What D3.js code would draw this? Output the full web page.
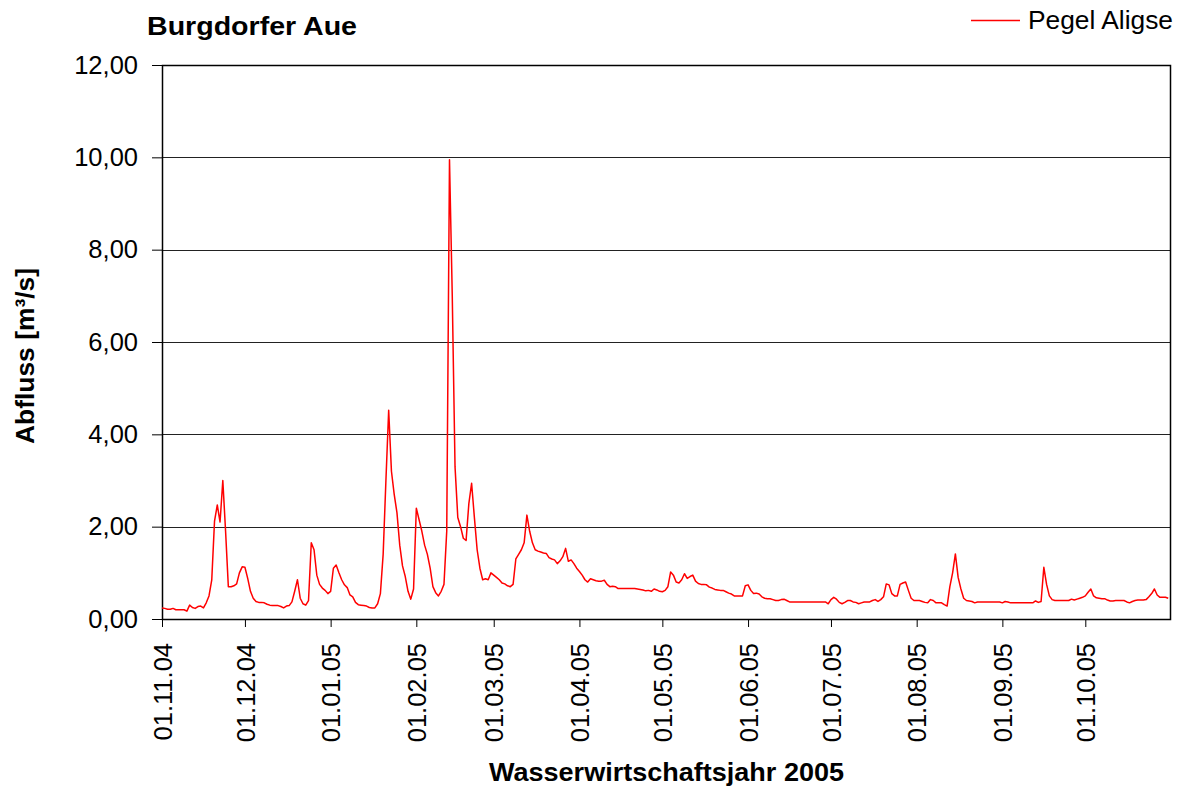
<!DOCTYPE html>
<html>
<head>
<meta charset="utf-8">
<script src="https://cdn.jsdelivr.net/npm/d3@7/dist/d3.min.js"></script>
<style>
    body { margin: 0; background: #ffffff; }
    text { font-family: "Liberation Sans", Arial, sans-serif; fill: #000; }
</style>
</head>
<body>
<div id="chart"></div>
<script>
// daily discharge, Pegel Aligse, m3/s
var nov04 = [0.24, 0.23, 0.21, 0.21, 0.23, 0.20, 0.20, 0.20, 0.20, 0.17,
    0.30, 0.25, 0.23, 0.27, 0.28, 0.24, 0.35, 0.50, 0.85, 2.12,
    2.47, 2.10, 3.00, 1.90, 0.70, 0.70, 0.72, 0.76, 1.00, 1.13];
var dec04 = [1.12, 0.88, 0.60, 0.45, 0.38, 0.36, 0.36, 0.35, 0.32, 0.30,
    0.29, 0.29, 0.29, 0.27, 0.24, 0.28, 0.29, 0.37, 0.60, 0.85,
    0.45, 0.33, 0.30, 0.40, 1.65, 1.50, 0.95, 0.75, 0.67, 0.62,
    0.55];
var jan05 = [0.60, 1.10, 1.17, 1.00, 0.85, 0.74, 0.68, 0.52, 0.48, 0.36,
    0.31, 0.30, 0.29, 0.28, 0.25, 0.24, 0.24, 0.33, 0.55, 1.40,
    3.00, 4.52, 3.20, 2.70, 2.30, 1.60, 1.15, 0.92, 0.60, 0.43,
    0.65];
var feb05 = [2.40, 2.15, 1.90, 1.60, 1.40, 1.10, 0.70, 0.57, 0.50, 0.60,
    0.75, 1.90, 9.95, 7.00, 3.30, 2.20, 2.00, 1.75, 1.70, 2.50,
    2.94, 2.20, 1.50, 1.10, 0.85, 0.87, 0.85, 1.00];
var mar05 = [0.95, 0.90, 0.85, 0.78, 0.76, 0.72, 0.70, 0.75, 1.30, 1.40,
    1.50, 1.65, 2.25, 1.90, 1.65, 1.50, 1.47, 1.45, 1.43, 1.42,
    1.33, 1.30, 1.28, 1.20, 1.26, 1.35, 1.53, 1.25, 1.28, 1.20,
    1.10];
var apr05 = [1.03, 0.95, 0.85, 0.80, 0.87, 0.85, 0.83, 0.82, 0.82, 0.84,
    0.75, 0.70, 0.71, 0.70, 0.66, 0.66, 0.66, 0.66, 0.66, 0.66,
    0.66, 0.65, 0.64, 0.63, 0.61, 0.62, 0.60, 0.65, 0.63, 0.60];
var may05 = [0.59, 0.62, 0.70, 1.02, 0.95, 0.80, 0.78, 0.85, 0.98, 0.88,
    0.92, 0.95, 0.82, 0.77, 0.75, 0.75, 0.74, 0.69, 0.67, 0.64,
    0.63, 0.62, 0.62, 0.59, 0.56, 0.54, 0.50, 0.50, 0.50, 0.50,
    0.72];
var jun05 = [0.74, 0.62, 0.55, 0.56, 0.54, 0.48, 0.45, 0.44, 0.44, 0.42,
    0.40, 0.40, 0.42, 0.43, 0.40, 0.37, 0.37, 0.37, 0.37, 0.37,
    0.37, 0.37, 0.37, 0.37, 0.37, 0.37, 0.37, 0.37, 0.37, 0.33];
var jul05 = [0.42, 0.47, 0.43, 0.36, 0.33, 0.36, 0.40, 0.40, 0.37, 0.36,
    0.33, 0.35, 0.37, 0.37, 0.37, 0.40, 0.42, 0.38, 0.42, 0.48,
    0.76, 0.74, 0.55, 0.50, 0.50, 0.75, 0.78, 0.80, 0.62, 0.45,
    0.40];
var aug05 = [0.40, 0.40, 0.38, 0.36, 0.35, 0.42, 0.40, 0.35, 0.35, 0.35,
    0.31, 0.28, 0.70, 1.00, 1.41, 0.90, 0.65, 0.45, 0.40, 0.39,
    0.38, 0.35, 0.37, 0.37, 0.37, 0.37, 0.37, 0.37, 0.37, 0.37,
    0.37];
var sep05 = [0.35, 0.38, 0.37, 0.35, 0.35, 0.35, 0.35, 0.35, 0.35, 0.35,
    0.35, 0.35, 0.39, 0.36, 0.38, 1.12, 0.75, 0.50, 0.42, 0.40,
    0.40, 0.40, 0.40, 0.40, 0.40, 0.43, 0.41, 0.43, 0.45, 0.47];
var oct05 = [0.50, 0.58, 0.65, 0.50, 0.46, 0.45, 0.44, 0.44, 0.41, 0.39,
    0.39, 0.40, 0.40, 0.40, 0.40, 0.37, 0.35, 0.38, 0.40, 0.41,
    0.41, 0.41, 0.42, 0.48, 0.55, 0.65, 0.52, 0.47, 0.47, 0.47,
    0.45];

var yTicks = [0, 2, 4, 6, 8, 10, 12];
var startDate = "2004-11-01";
var endDate = "2005-11-01";
var seriesName = "Pegel Aligse";

var width = 1178,
    height = 787,
    margin = {top: 65, right: 7, bottom: 168, left: 162};

var values = [].concat(nov04, dec04, jan05, feb05, mar05, apr05,
    may05, jun05, jul05, aug05, sep05, oct05);
var t0 = new Date(startDate + "T00:00:00Z"),
    t1 = new Date(endDate + "T00:00:00Z");
var data = values.map(function (v, i) {
    return {date: d3.utcDay.offset(t0, i), value: v};
});

var svg = d3.select("#chart")
    .append("svg")
    .attr("width", width)
    .attr("height", height);

var x = d3.scaleUtc()
    .domain([t0, t1])
    .range([margin.left, width - margin.right]);

var y = d3.scaleLinear()
    .domain([0, 12])
    .range([height - margin.bottom, margin.top]);

var fmtY = function (d) { return d3.format(".2f")(d).replace(".", ","); };

// horizontal gridlines
svg.append("g")
    .selectAll("line")
    .data(yTicks.filter(function (d) { return d > 0 && d < 12; }))
    .enter().append("line")
    .attr("x1", margin.left)
    .attr("x2", width - margin.right)
    .attr("y1", function (d) { return Math.round(y(d)) + 0.5; })
    .attr("y2", function (d) { return Math.round(y(d)) + 0.5; })
    .style("stroke", "#222")
    .style("stroke-width", 1);

// X axis with rotated date labels
var xAxis = svg.append("g")
    .attr("transform", "translate(0," + (height - margin.bottom) + ")")
    .call(d3.axisBottom(x)
        .tickValues(d3.utcMonth.range(t0, t1))
        .tickSize(8)
        .tickFormat(d3.utcFormat("%d.%m.%y")));

xAxis.select(".domain").remove();
xAxis.selectAll(".tick line").style("stroke", "#000");
xAxis.selectAll("text")
    .attr("transform", "rotate(-90)")
    .attr("text-anchor", "end")
    .attr("x", -24)
    .attr("y", 0)
    .attr("dy", "0.36em")
    .style("font-size", "25.5px");

// Y axis
var yAxis = svg.append("g")
    .attr("transform", "translate(" + margin.left + ",0)")
    .call(d3.axisLeft(y)
        .tickValues(yTicks)
        .tickSize(10)
        .tickPadding(14)
        .tickFormat(fmtY));

yAxis.select(".domain").remove();
yAxis.selectAll(".tick line").style("stroke", "#000");
yAxis.selectAll("text").style("font-size", "25.5px");

// plot frame
svg.append("rect")
    .attr("x", margin.left + 0.5)
    .attr("y", margin.top + 0.5)
    .attr("width", width - margin.left - margin.right - 1)
    .attr("height", height - margin.top - margin.bottom)
    .style("fill", "none")
    .style("stroke", "#000")
    .style("stroke-width", 1.5);

// the discharge line
var line = d3.line()
    .x(function (d) { return x(d.date); })
    .y(function (d) { return y(d.value); });

svg.append("path")
    .datum(data)
    .attr("d", line)
    .style("fill", "none")
    .style("stroke", "#ff0000")
    .style("stroke-width", 1.5)
    .style("stroke-linejoin", "round");

// title
svg.append("text")
    .attr("x", 147)
    .attr("y", 35)
    .attr("textLength", 210)
    .attr("lengthAdjust", "spacingAndGlyphs")
    .text("Burgdorfer Aue")
    .style("font-size", "25px")
    .style("font-weight", "bold");

// axis titles
svg.append("text")
    .attr("x", (margin.left + width - margin.right) / 2)
    .attr("y", 781)
    .attr("text-anchor", "middle")
    .attr("textLength", 355)
    .attr("lengthAdjust", "spacingAndGlyphs")
    .text("Wasserwirtschaftsjahr 2005")
    .style("font-size", "25px")
    .style("font-weight", "bold");

svg.append("text")
    .attr("transform", "translate(34,356) rotate(-90)")
    .attr("text-anchor", "middle")
    .attr("textLength", 176)
    .attr("lengthAdjust", "spacingAndGlyphs")
    .text("Abfluss [m³/s]")
    .style("font-size", "25px")
    .style("font-weight", "bold");

// legend
var legend = svg.append("g");
legend.append("line")
    .attr("x1", 971)
    .attr("x2", 1020)
    .attr("y1", 20.5)
    .attr("y2", 20.5)
    .style("stroke", "#ff0000")
    .style("stroke-width", 1.5);
legend.append("text")
    .attr("x", 1028)
    .attr("y", 29)
    .attr("textLength", 145)
    .attr("lengthAdjust", "spacingAndGlyphs")
    .text(seriesName)
    .style("font-size", "25px");
</script>
</body>
</html>
